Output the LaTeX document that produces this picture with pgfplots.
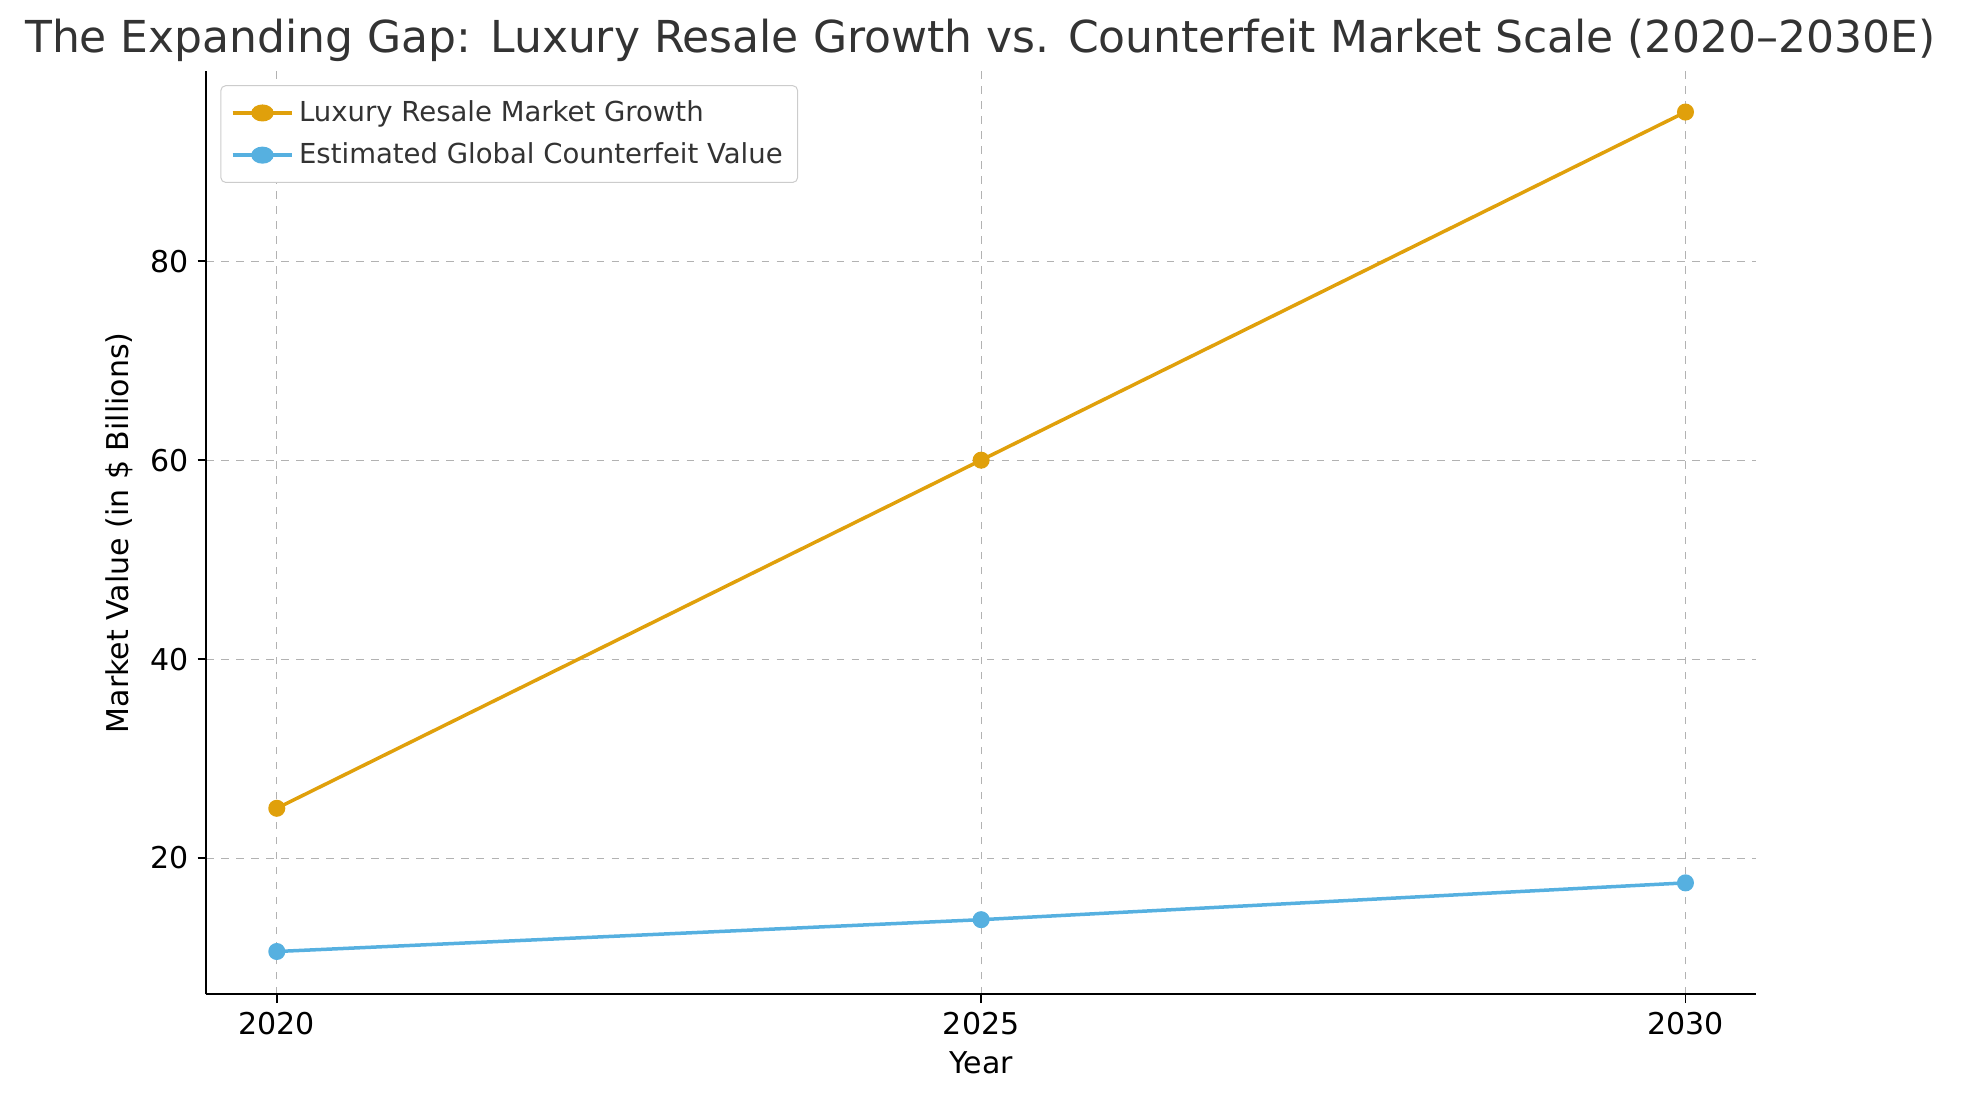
\documentclass[border=0pt]{standalone}
\usepackage{pgfplots}
\pgfplotsset{compat=1.18}
\usepackage{fontspec}
\setmainfont{DejaVu Sans}
\definecolor{lux}{HTML}{E0A00B}
\definecolor{cf}{HTML}{56B0E0}
\definecolor{tx}{HTML}{333333}
\begin{document}
\begin{tikzpicture}
\path[use as bounding box] (0,0) rectangle (784pt,440pt);
\node[font=\fontsize{17.6}{19}\selectfont, text=tx] at (392pt,424pt) {The Expanding Gap: Luxury Resale Growth vs. Counterfeit Market Scale (2020–2030E)};
\begin{axis}[
  at={(82.5pt,42.5pt)}, anchor=south west,
  scale only axis, width=619.5pt, height=369pt,
  xmin=2019.5, xmax=2030.5, ymin=6.3, ymax=99.1,
  xtick={2020,2025,2030}, ytick={20,40,60,80},
  xticklabel style={/pgf/number format/1000 sep={}},
  /pgf/number format/assume math mode=true,
  tick label style={font=\fontsize{12}{14}\selectfont},
  label style={font=\fontsize{12}{14}\selectfont},
  xlabel={Year}, ylabel={Market Value (in \$ Billions)},
  axis lines*=left, axis line style={black, line width=0.7pt},
  tick style={black, line width=0.7pt}, tick align=outside,
  major tick length=3.5pt,
  grid=major, grid style={dashed, gray!60, line width=0.4pt},
  legend style={at={(0.009,0.985)}, anchor=north west, font=\fontsize{11}{13}\selectfont, draw=gray!40, rounded corners=2pt, row sep=3pt, inner sep=4pt, text=tx},
  legend image post style={xscale=1.4},
  legend cell align=left,
]
\addplot[lux, line width=1.4pt, mark=*, mark size=2.7pt] coordinates {(2020,25) (2025,60) (2030,95)};
\addlegendentry{Luxury Resale Market Growth}
\addplot[cf, line width=1.4pt, mark=*, mark size=2.7pt] coordinates {(2020,10.6) (2025,13.8) (2030,17.5)};
\addlegendentry{Estimated Global Counterfeit Value}
\end{axis}
\end{tikzpicture}
\end{document}
